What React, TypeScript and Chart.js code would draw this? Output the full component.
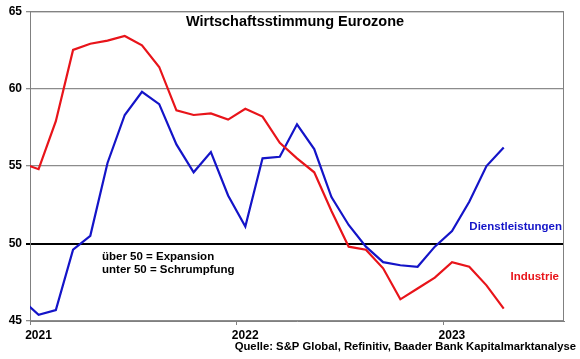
import React, { useEffect, useRef } from "react";
import { Chart, registerables } from "chart.js";

Chart.register(...registerables);

// Monthly PMI values, Dec 2020 .. Apr 2023
const months = [
  "2020-12", "2021-01", "2021-02", "2021-03", "2021-04", "2021-05", "2021-06",
  "2021-07", "2021-08", "2021-09", "2021-10", "2021-11", "2021-12",
  "2022-01", "2022-02", "2022-03", "2022-04", "2022-05", "2022-06",
  "2022-07", "2022-08", "2022-09", "2022-10", "2022-11", "2022-12",
  "2023-01", "2023-02", "2023-03", "2023-04",
];
const industrie = [
  55.2, 54.8, 57.9, 62.5, 62.9, 63.1, 63.4, 62.8, 61.4, 58.6, 58.3, 58.4, 58.0,
  58.7, 58.2, 56.5, 55.5, 54.6, 52.1, 49.8, 49.6, 48.4, 46.4, 47.1, 47.8,
  48.8, 48.5, 47.3, 45.8,
];
const dienstleistungen = [
  46.4, 45.4, 45.7, 49.6, 50.5, 55.2, 58.3, 59.8, 59.0, 56.4, 54.6, 55.9, 53.1,
  51.1, 55.5, 55.6, 57.7, 56.1, 53.0, 51.2, 49.8, 48.8, 48.6, 48.5, 49.8,
  50.8, 52.7, 55.0, 56.2,
];
const yearLabels = ["2021", "2022", "2023"];
const yTicks = [45, 50, 55, 60, 65];

const TITLE = "Wirtschaftsstimmung Eurozone";
const SOURCE = "Quelle: S&P Global, Refinitiv, Baader Bank Kapitalmarktanalyse";
const NOTE1 = "über 50 = Expansion";
const NOTE2 = "unter 50 = Schrumpfung";

const FONT = "'Liberation Sans', Arial, Helvetica, sans-serif";
const RED = "#e8141a";
const BLUE = "#1414c8";

// month position: months since Jan 2021 start, centred in the month
const toX = (m: string) => {
  const [y, mo] = m.split("-").map(Number);
  return (y - 2021) * 12 + (mo - 1) + 0.5;
};

const annotations = {
  id: "annotations",
  afterDraw(chart: any) {
    const { ctx, chartArea } = chart;
    ctx.save();
    // plot frame (top + right)
    ctx.strokeStyle = "#808080";
    ctx.lineWidth = 1;
    ctx.beginPath();
    ctx.moveTo(chartArea.left, chartArea.top + 0.5);
    ctx.lineTo(chartArea.right - 0.5, chartArea.top + 0.5);
    ctx.lineTo(chartArea.right - 0.5, chartArea.bottom);
    ctx.stroke();

    ctx.textBaseline = "middle";
    ctx.fillStyle = "#000";
    ctx.font = `bold 14.5px ${FONT}`;
    ctx.textAlign = "center";
    ctx.fillText(TITLE, 295, 22);

    ctx.font = `bold 11.5px ${FONT}`;
    ctx.textAlign = "left";
    ctx.fillText(NOTE1, 102, 257);
    ctx.fillText(NOTE2, 102, 270);

    ctx.textAlign = "right";
    ctx.fillStyle = BLUE;
    ctx.fillText("Dienstleistungen", 562, 227);
    ctx.fillStyle = RED;
    ctx.fillText("Industrie", 559, 277);

    ctx.fillStyle = "#000";
    ctx.font = `bold 11.3px ${FONT}`;
    ctx.fillText(SOURCE, 576, 347);
    ctx.restore();
  },
};

export default function App() {
  const ref = useRef<HTMLCanvasElement>(null);
  useEffect(() => {
    const canvas = ref.current!;
    const chart = new Chart(canvas, {
      type: "line",
      data: {
        datasets: [
          {
            label: "Industrie",
            data: months.map((m, i) => ({ x: toX(m), y: industrie[i] })),
            borderColor: RED,
            borderWidth: 2.2,
            pointRadius: 0,
            tension: 0,
            fill: false,
          },
          {
            label: "Dienstleistungen",
            data: months.map((m, i) => ({ x: toX(m), y: dienstleistungen[i] })),
            borderColor: BLUE,
            borderWidth: 2.2,
            pointRadius: 0,
            tension: 0,
            fill: false,
          },
        ],
      },
      options: {
        responsive: false,
        animation: false,
        layout: { padding: { top: 9, right: 16, left: 0, bottom: 0 } },
        plugins: {
          legend: { display: false },
          title: { display: false },
          tooltip: { enabled: false },
        },
        scales: {
          x: {
            type: "linear",
            min: 0,
            max: 31,
            afterBuildTicks: (scale: any) => {
              scale.ticks = yearLabels.map((_, i) => ({ value: i * 12 }));
            },
            afterFit: (scale: any) => {
              scale.height = 38;
            },
            ticks: {
              autoSkip: false,
              maxRotation: 0,
              labelOffset: 8.5,
              padding: 3,
              color: "#000",
              font: { family: FONT, size: 12, weight: "bold" },
              callback: (v: any) => yearLabels[Math.round(Number(v) / 12)] ?? "",
            },
            grid: {
              display: true,
              drawOnChartArea: false,
              drawTicks: true,
              tickLength: 4,
              color: "#808080",
            },
            border: { color: "#808080", width: 1 },
          },
          y: {
            min: 45,
            max: 65,
            afterBuildTicks: (scale: any) => {
              scale.ticks = yTicks.map((v) => ({ value: v }));
            },
            afterFit: (scale: any) => {
              scale.width = 30;
            },
            ticks: {
              padding: 4,
              color: "#000",
              font: { family: FONT, size: 12, weight: "bold" },
            },
            grid: {
              drawTicks: true,
              tickLength: 4,
              color: (c: any) => (c.tick && c.tick.value === 50 ? "#000" : "#8c8c8c"),
              lineWidth: (c: any) => (c.tick && c.tick.value === 50 ? 2 : 1.3),
            },
            border: { color: "#808080", width: 1 },
          },
        },
      },
      plugins: [annotations],
    });
    return () => chart.destroy();
  }, []);
  return (
    <div style={{ position: "fixed", left: 0, top: 0, width: 580, height: 359, background: "#fff" }}>
      <canvas ref={ref} width={580} height={359} style={{ width: 580, height: 359, display: "block" }} />
    </div>
  );
}
